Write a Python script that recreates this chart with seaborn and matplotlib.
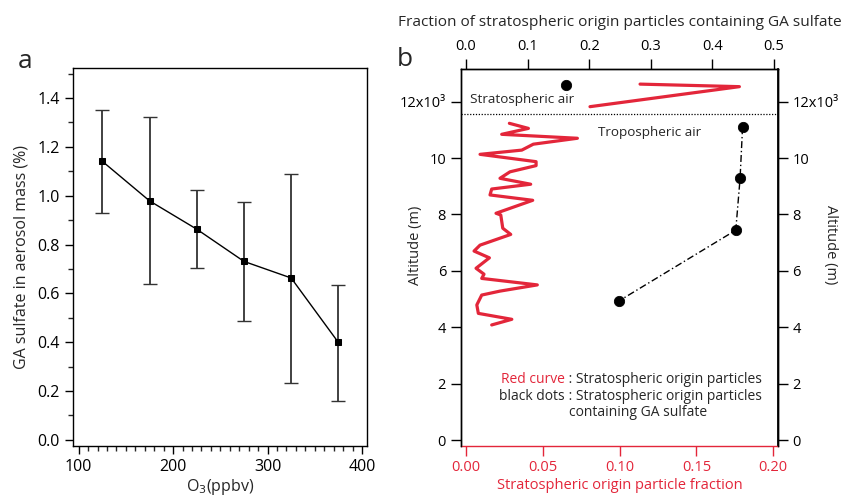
import numpy as np
import pandas as pd
import matplotlib
matplotlib.use("Agg")
import matplotlib.pyplot as plt
import seaborn as sns
from matplotlib.ticker import MultipleLocator, FixedLocator, FixedFormatter

sns.set_theme(style="ticks")
plt.rcParams["font.family"] = ["Open Sans", "DejaVu Sans"]

RED = "#e3263a"

# ---------------- data: panel a ----------------
o3_ppbv = [125, 175, 225, 275, 325, 375]
ga_pct = [1.141, 0.979, 0.863, 0.731, 0.663, 0.399]
ga_upper = [1.350, 1.321, 1.022, 0.975, 1.090, 0.635]
ga_lower = [0.929, 0.638, 0.704, 0.488, 0.235, 0.160]

# ---------------- data: panel b ----------------
strat_frac = [0.1133, 0.178, 0.0807]
strat_alt = [12620, 12530, 11820]
trop_frac = [0.0282, 0.0406, 0.0232, 0.0725, 0.0438, 0.0363, 0.0091, 0.0456,
             0.0456, 0.0286, 0.0221, 0.0421, 0.0167, 0.0156, 0.0434, 0.0195,
             0.0226, 0.0239, 0.0291, 0.0091, 0.0052, 0.0152, 0.0065, 0.0117,
             0.0102, 0.0464, 0.0221, 0.0102, 0.0070, 0.0080, 0.0298, 0.0167]
trop_alt = [11230, 11050, 10840, 10700, 10490, 10280, 10130, 9870,
            9730, 9510, 9280, 9070, 8900, 8690, 8500, 8040,
            7980, 7510, 7290, 6910, 6700, 6460, 6090, 5880,
            5730, 5500, 5280, 5140, 4790, 4490, 4280, 4080]
ga_dot_strat_frac = [0.162]
ga_dot_strat_alt = [12580]
ga_dot_frac = [0.449, 0.445, 0.438, 0.249]
ga_dot_alt = [11090, 9280, 7440, 4940]
tropopause_alt = 11560
alt_ticks = [0, 2000, 4000, 6000, 8000, 10000, 12000]
alt_labels = ["0", "2", "4", "6", "8", "10", "12x10\u00b3"]

fig = plt.figure(figsize=(8.47, 4.95), dpi=100)

# ================= panel a =================
ax_a = fig.add_axes([0.0862, 0.0990, 0.3471, 0.7636])
yerr = [np.array(ga_pct) - np.array(ga_lower), np.array(ga_upper) - np.array(ga_pct)]
ax_a.errorbar(o3_ppbv, ga_pct, yerr=yerr, fmt="none", ecolor="#333333",
              elinewidth=1.3, capsize=5, capthick=1.0, zorder=2)
sns.lineplot(x=o3_ppbv, y=ga_pct, ax=ax_a, color="black", lw=1.0,
             marker="s", markersize=5, markeredgecolor="black", zorder=3)
ax_a.set_xlim(94, 405.3)
ax_a.set_ylim(-0.025, 1.523)
ax_a.xaxis.set_major_locator(FixedLocator([100, 200, 300, 400]))
ax_a.xaxis.set_minor_locator(MultipleLocator(10))
ax_a.yaxis.set_major_locator(MultipleLocator(0.2))
ax_a.yaxis.set_minor_locator(MultipleLocator(0.1))
ax_a.yaxis.set_major_formatter(matplotlib.ticker.FormatStrFormatter("%.1f"))
ax_a.tick_params(which="major", direction="out", length=6, width=1, labelsize=11.5, colors="black")
ax_a.tick_params(which="minor", direction="out", length=3.5, width=1)
for s in ax_a.spines.values():
    s.set_linewidth(1.0)
    s.set_color("black")
ax_a.set_xlabel("O$_3$(ppbv)", fontsize=11.5, labelpad=1)
ax_a.set_ylabel("GA sulfate in aerosol mass (%)", fontsize=11.5, labelpad=6)
fig.text(0.030, 0.875, "a", fontsize=19, ha="center", va="center")

# ================= panel b =================
ax_b = fig.add_axes([0.5439, 0.0996, 0.3746, 0.7610])
sns.lineplot(x=strat_frac, y=strat_alt, ax=ax_b, sort=False, estimator=None,
             color=RED, lw=2.3)
sns.lineplot(x=trop_frac, y=trop_alt, ax=ax_b, sort=False, estimator=None,
             color=RED, lw=2.3)
ax_b.axhline(tropopause_alt, color="black", ls=(0, (1, 1.3)), lw=0.9)
ax_b.set_xlim(-0.0035, 0.2031)
ax_b.set_ylim(-202, 13156)
ax_b.xaxis.set_major_locator(MultipleLocator(0.05))
ax_b.xaxis.set_major_formatter(matplotlib.ticker.FormatStrFormatter("%.2f"))
ax_b.yaxis.set_major_locator(FixedLocator(alt_ticks))
ax_b.yaxis.set_major_formatter(FixedFormatter(alt_labels))
ax_b.tick_params(axis="x", direction="out", length=7, width=1, colors=RED, labelsize=10.5)
ax_b.tick_params(axis="y", direction="out", length=7, width=1, labelsize=10.5, colors="black")
ax_b.spines["bottom"].set_color(RED)
ax_b.spines["bottom"].set_linewidth(1.0)
for k in ["left", "right", "top"]:
    ax_b.spines[k].set_color("black")
    ax_b.spines[k].set_linewidth(1.0)
ax_b.set_xlabel("Stratospheric origin particle fraction", color=RED, fontsize=10.5, labelpad=2)
ax_b.set_ylabel("")
fig.text(415 / 847, 1 - 245 / 495, "Altitude (m)", fontsize=10.5, rotation=90,
         ha="center", va="center")

ax_r = ax_b.secondary_yaxis("right")
ax_r.yaxis.set_major_locator(FixedLocator(alt_ticks))
ax_r.yaxis.set_major_formatter(FixedFormatter(alt_labels))
ax_r.tick_params(direction="out", length=7, width=1, labelsize=10.5, colors="black")
ax_r.spines["right"].set_color("black")
fig.text(830 / 847, 1 - 245 / 495, "Altitude (m)", fontsize=10.5, rotation=270,
         ha="center", va="center")

ax_t = ax_b.twiny()
ax_t.set_xlim(-0.0086, 0.5065)
ax_t.xaxis.set_major_locator(MultipleLocator(0.1))
ax_t.xaxis.set_major_formatter(matplotlib.ticker.FormatStrFormatter("%.1f"))
ax_t.tick_params(axis="x", direction="out", length=7, width=1, labelsize=10.5, colors="black")
ax_t.spines["bottom"].set_visible(False)
for k in ["left", "right", "top"]:
    ax_t.spines[k].set_color("black")
    ax_t.spines[k].set_linewidth(1.0)
sns.lineplot(x=ga_dot_frac, y=ga_dot_alt, ax=ax_t, sort=False, estimator=None,
             color="black", lw=1.0, ls=(0, (5, 2, 1, 2)))
sns.scatterplot(x=ga_dot_frac + ga_dot_strat_frac, y=ga_dot_alt + ga_dot_strat_alt,
                ax=ax_t, color="black", s=55, edgecolor="black", zorder=4)
ax_t.set_xlabel("Fraction of stratospheric origin particles containing GA sulfate",
                fontsize=11.1, labelpad=10)

fs = 10
ax_b.text(0.0025, 12090, "Stratospheric air", fontsize=9.7, ha="left", va="center")
ax_b.text(0.086, 10890, "Tropospheric air", fontsize=9.7, ha="left", va="center")
ax_b.text(0.0645, 2130, "Red curve", color=RED, fontsize=fs, ha="right", va="center")
ax_b.text(0.0645, 2130, " : Stratospheric origin particles", fontsize=fs, ha="left", va="center")
ax_b.text(0.0645, 1560, "black dots", fontsize=fs, ha="right", va="center")
ax_b.text(0.0645, 1560, " : Stratospheric origin particles", fontsize=fs, ha="left", va="center")
ax_b.text(0.1123, 990, "containing GA sulfate", fontsize=fs, ha="center", va="center")
fig.text(0.478, 0.880, "b", fontsize=19, ha="center", va="center")

fig.savefig("out.png", dpi=100)
